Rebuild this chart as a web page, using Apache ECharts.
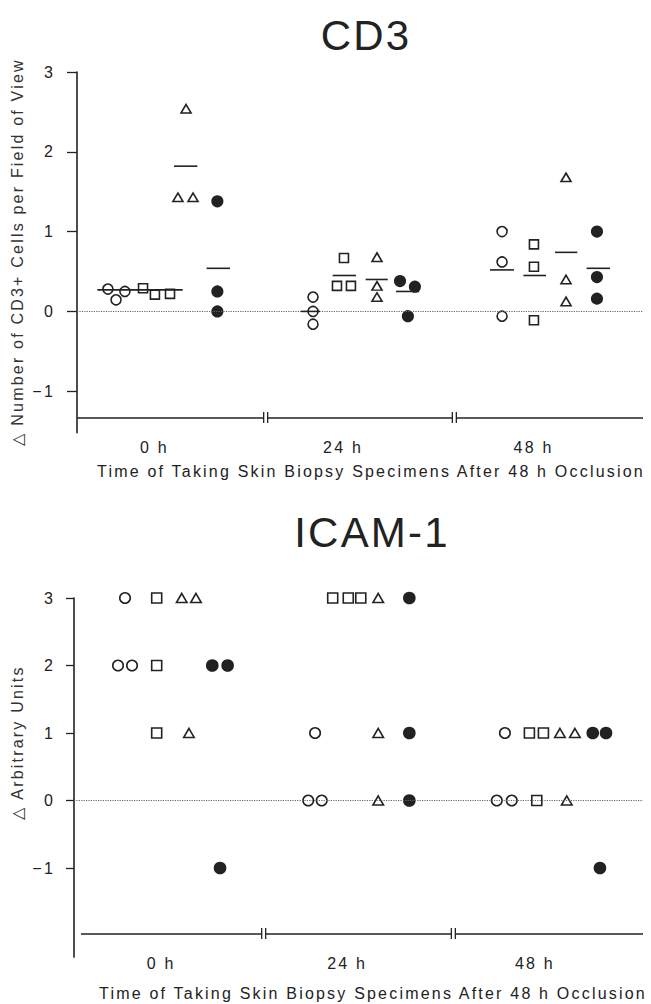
<!DOCTYPE html>
<html>
<head>
<meta charset="utf-8">
<script src="https://cdn.jsdelivr.net/npm/echarts@6/dist/echarts.min.js"></script>
<style>
  html, body { margin: 0; padding: 0; background: #fff; }
  #chart { width: 651px; height: 1004px; }
  /* the printed figure uses wide letter spacing */
  #chart text { letter-spacing: 2.2px; }
</style>
</head>
<body>
<div id="chart"></div>
<script>
const timeLabels = ['0 h', '24 h', '48 h'];
const xTitle = 'Time of Taking Skin Biopsy Specimens After 48 h Occlusion';
const yTicks = [-1, 0, 1, 2, 3];
const breaks = [1, 2];

// x = horizontal slot, one unit per time point (0 h, 24 h, 48 h)
// CD3 panel
const cd3CircleX   = [0.164, 0.207, 0.254, 1.251, 1.251, 1.251, 2.253, 2.253, 2.253];
const cd3Circle    = [0.28, 0.145, 0.25, 0.18, 0.00, -0.16, 1.00, 0.62, -0.06];
const cd3SquareX   = [0.350, 0.413, 0.493, 1.415, 1.378, 1.452, 2.422, 2.422, 2.422];
const cd3Square    = [0.29, 0.21, 0.22, 0.67, 0.32, 0.32, 0.84, 0.56, -0.11];
const cd3TriangleX = [0.578, 0.535, 0.615, 1.590, 1.590, 1.590, 2.592, 2.592, 2.592];
const cd3Triangle  = [2.54, 1.43, 1.43, 0.68, 0.32, 0.18, 1.68, 0.40, 0.125];
const cd3FilledX   = [0.744, 0.744, 0.744, 1.712, 1.791, 1.754, 2.756, 2.756, 2.756];
const cd3Filled    = [1.38, 0.25, 0.00, 0.38, 0.31, -0.06, 1.00, 0.43, 0.16];
// group means: [from x, to x, mean]
const cd3CircleMean   = [[0.108, 0.318, 0.27], [1.186, 1.288, 0.00], [2.189, 2.316, 0.52]];
const cd3SquareMean   = [[0.318, 0.560, 0.27], [1.355, 1.479, 0.45], [2.366, 2.486, 0.45]];
const cd3TriangleMean = [[0.514, 0.638, 1.82], [1.530, 1.647, 0.40], [2.534, 2.652, 0.74]];
const cd3FilledMean   = [[0.687, 0.811, 0.54], [1.691, 1.814, 0.25], [2.701, 2.825, 0.54]];

// ICAM-1 panel
const icamCircleX   = [0.269, 0.232, 0.306, 1.271, 1.235, 1.306, 2.272, 2.229, 2.308];
const icamCircle    = [3, 2, 2, 1, 0, 0, 1, 0, 0];
const icamSquareX   = [0.436, 0.436, 0.436, 1.364, 1.446, 1.512, 2.401, 2.475, 2.440];
const icamSquare    = [3, 2, 1, 3, 3, 3, 1, 1, 0];
const icamTriangleX = [0.568, 0.643, 0.606, 1.604, 1.604, 1.604, 2.562, 2.641, 2.598];
const icamTriangle  = [3, 3, 1, 3, 1, 0, 1, 1, 0];
const icamFilledX   = [0.729, 0.810, 0.770, 1.768, 1.768, 1.768, 2.735, 2.805, 2.773];
const icamFilled    = [2, 2, -1, 3, 1, 0, 1, 1, -1];

const ink = '#222';
const font = '"Liberation Sans", Arial, sans-serif';

const markers = {
  circle:   { symbol: 'circle',   fill: 'rgba(0,0,0,0)' },
  square:   { symbol: 'rect',     fill: 'rgba(0,0,0,0)' },
  triangle: { symbol: 'triangle', fill: 'rgba(0,0,0,0)' },
  filled:   { symbol: 'circle',   fill: ink }
};
const cd3Sizes  = { circle: 10, square: 9, triangle: [10, 8.5], filled: 10.5 };
const icamSizes = { circle: 10.5, square: 10, triangle: [10.5, 9], filled: 11 };

function pts(xs, ys) {
  return xs.map((x, i) => [x, ys[i]]);
}

function scatter(idx, kind, xs, ys, sizes) {
  const m = markers[kind];
  return {
    type: 'scatter', xAxisIndex: idx, yAxisIndex: idx, z: 4,
    data: pts(xs, ys),
    symbol: m.symbol,
    symbolSize: sizes[kind],
    itemStyle: { color: m.fill, borderColor: ink, borderWidth: 1.6, opacity: 1 },
    emphasis: { disabled: true },
    silent: true
  };
}

function meanBars(idx, rows) {
  return {
    type: 'custom', xAxisIndex: idx, yAxisIndex: idx, z: 5, silent: true,
    data: rows,
    encode: { x: [0, 1], y: 2 },
    renderItem: function (params, api) {
      const a = api.coord([api.value(0), api.value(2)]);
      const b = api.coord([api.value(1), api.value(2)]);
      return {
        type: 'line',
        shape: { x1: a[0], y1: a[1], x2: b[0], y2: b[1] },
        style: { stroke: ink, lineWidth: 1.6 }
      };
    }
  };
}

// the "||" breaks on the time axis
function axisBreaks(idx, axisY) {
  return {
    type: 'custom', xAxisIndex: idx, yAxisIndex: idx, z: 6, silent: true,
    data: breaks.map(b => [b, axisY]),
    renderItem: function (params, api) {
      const p = api.coord([api.value(0), api.value(1)]);
      return {
        type: 'group',
        children: [
          { type: 'rect', shape: { x: p[0] - 2, y: p[1] - 2, width: 4, height: 4 }, style: { fill: '#fff' } },
          { type: 'line', shape: { x1: p[0] - 2, y1: p[1] - 5.5, x2: p[0] - 2, y2: p[1] + 5.5 }, style: { stroke: ink, lineWidth: 1.3 } },
          { type: 'line', shape: { x1: p[0] + 2, y1: p[1] - 5.5, x2: p[0] + 2, y2: p[1] + 5.5 }, style: { stroke: ink, lineWidth: 1.3 } }
        ]
      };
    }
  };
}

function frameLines(axisY, startX) {
  return {
    silent: true, symbol: ['none', 'none'], label: { show: false }, animation: false,
    data: [
      [{ coord: [startX, axisY], lineStyle: { color: ink, width: 1.6, type: 'solid' } }, { coord: [3, axisY] }],
      [{ coord: [0, 0], lineStyle: { color: '#666', width: 1.2, type: 'dotted' } }, { coord: [3, 0] }]
    ]
  };
}

function xAxisFor(idx, labelX, margin, gap, shift) {
  return {
    type: 'value', gridIndex: idx, min: 0, max: 3,
    axisLine: { show: false }, axisTick: { show: false }, splitLine: { show: false },
    axisLabel: {
      customValues: labelX, margin: margin,
      formatter: v => timeLabels[Math.floor(v)],
      fontSize: 16, color: '#222', fontFamily: font
    },
    name: xTitle, nameLocation: 'middle', nameGap: gap,
    nameTextStyle: { fontSize: 16, color: '#222', fontFamily: font, padding: [0, 0, 0, shift] }
  };
}

function yAxisFor(idx, min, name, margin, gap, tickLen, shift) {
  return {
    type: 'value', gridIndex: idx, min: min, max: 3,
    axisLine: { show: true, lineStyle: { color: ink, width: 1.6 } },
    axisTick: { show: true, customValues: yTicks, length: tickLen, lineStyle: { color: ink, width: 1.3 } },
    axisLabel: {
      customValues: yTicks, margin: margin,
      formatter: v => (v < 0 ? '\u2212' + Math.abs(v) : String(v)),
      fontSize: 16, color: '#222', fontFamily: font
    },
    splitLine: { show: false },
    name: name, nameLocation: 'middle', nameGap: gap,
    nameTextStyle: { fontSize: 16, color: '#333', fontFamily: font, padding: [0, 0, 0, shift] }
  };
}

const cd3Base = scatter(0, 'circle', cd3CircleX, cd3Circle, cd3Sizes);
cd3Base.markLine = frameLines(-1.33, 0);
const icamBase = scatter(1, 'circle', icamCircleX, icamCircle, icamSizes);
icamBase.markLine = frameLines(-1.97, 0.037);

const chart = echarts.init(document.getElementById('chart'), null, { renderer: 'svg' });
chart.setOption({
  animation: false,
  backgroundColor: '#fff',
  title: [
    { text: 'CD3', left: 366, top: 14, textAlign: 'center', padding: 0,
      textStyle: { fontSize: 42, fontWeight: 'normal', color: ink, fontFamily: font } },
    { text: 'ICAM-1', left: 372, top: 511, textAlign: 'center', padding: 0,
      textStyle: { fontSize: 42, fontWeight: 'normal', color: ink, fontFamily: font } }
  ],
  grid: [
    { left: 77, width: 566, top: 72, height: 360.7 },
    { left: 74, width: 569, top: 598, height: 359.1 }
  ],
  xAxis: [
    xAxisFor(0, [0.41, 1.41, 2.42], 7, 31, 22),
    xAxisFor(1, [0.46, 1.44, 2.43], -2, 28, 29)
  ],
  yAxis: [
    yAxisFor(0, -1.52, '\u25B3 Number of CD3+ Cells per Field of View', 22, 46, 10, 0),
    yAxisFor(1, -2.32, '\u25B3 Arbitrary Units', 19, 46, 8, 70)
  ],
  series: [
    cd3Base,
    scatter(0, 'square', cd3SquareX, cd3Square, cd3Sizes),
    scatter(0, 'triangle', cd3TriangleX, cd3Triangle, cd3Sizes),
    scatter(0, 'filled', cd3FilledX, cd3Filled, cd3Sizes),
    meanBars(0, cd3CircleMean),
    meanBars(0, cd3SquareMean),
    meanBars(0, cd3TriangleMean),
    meanBars(0, cd3FilledMean),
    axisBreaks(0, -1.33),
    icamBase,
    scatter(1, 'square', icamSquareX, icamSquare, icamSizes),
    scatter(1, 'triangle', icamTriangleX, icamTriangle, icamSizes),
    scatter(1, 'filled', icamFilledX, icamFilled, icamSizes),
    axisBreaks(1, -1.97)
  ]
});
</script>
</body>
</html>
